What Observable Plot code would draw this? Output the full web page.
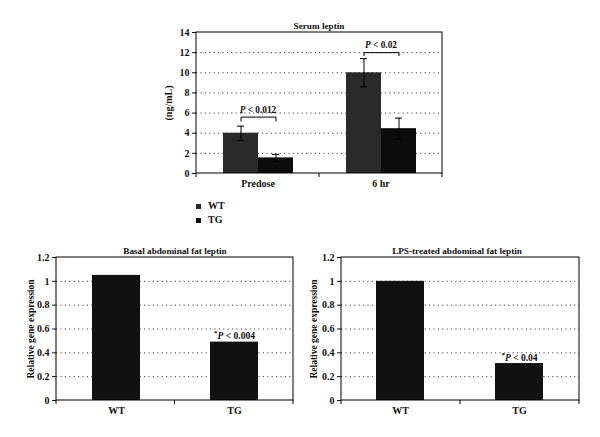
<!DOCTYPE html>
<html><head><meta charset="utf-8">
<script src="https://cdn.jsdelivr.net/npm/d3@7"></script>
<script src="https://cdn.jsdelivr.net/npm/@observablehq/plot@0.6"></script>
<style>
body{margin:0;background:#fff;width:600px;height:437px;position:relative;overflow:hidden;font-family:"Liberation Serif",serif;color:#111;}
.abs{position:absolute;}
.title{font-size:9.2px;font-weight:bold;text-align:center;white-space:nowrap;width:240px;line-height:14px;}
.leg{font-size:10px;font-weight:bold;line-height:12px;display:flex;align-items:center;}
.sw{width:5px;height:5px;display:inline-block;margin-right:7px;}
</style></head>
<body>
<div class="abs title" style="left:199px;top:19px;">Serum leptin</div>
<div class="abs title" style="left:55px;top:244px;">Basal abdominal fat leptin</div>
<div class="abs title" style="left:337px;top:244px;">LPS-treated abdominal fat leptin</div>
<div id="legend" class="abs" style="left:196px;top:200px;"></div>
<div id="top" class="abs" style="left:156px;top:22px;"></div>
<div id="bl" class="abs" style="left:16px;top:247px;"></div>
<div id="br" class="abs" style="left:301px;top:247px;"></div>
<script>
// ---- data ----
const timeCats = ["Predose", "6 hr"];
const groups = ["WT", "TG"];
const serumTime = ["Predose", "Predose", "6 hr", "6 hr"];
const serumGroup = ["WT", "TG", "WT", "TG"];
const serumMean = [4.0, 1.55, 10.0, 4.45];
const serumErr = [0.7, 0.35, 1.4, 1.05];
const pTime = ["Predose", "6 hr"];
const pBracketTop = [5.6, 12.0];
const pBracketLeg = [5.2, 11.7];
const pLabel = ["P < 0.012", "P < 0.02"];
const pLabelY = [6.3, 12.8];
const serumTicks = [0, 2, 4, 6, 8, 10, 12, 14];
const relTicks = [0, 0.2, 0.4, 0.6, 0.8, 1, 1.2];
const basalValues = [1.05, 0.49];
const basalNote = ["", "*P < 0.004"];
const lpsValues = [1.0, 0.31];
const lpsNote = ["", "*P < 0.04"];
const groupColors = ["#2a2a2a", "#0c0c0c"];

const font = {fontFamily: "'Liberation Serif', serif", fontSize: "10px", fontWeight: "bold", color: "#111", background: "transparent", overflow: "visible"};

// legend
const leg = document.getElementById("legend");
groups.forEach((g, i) => {
  const row = document.createElement("div");
  row.className = "leg";
  row.style.marginBottom = "2px";
  row.innerHTML = `<span class="sw" style="background:${groupColors[i]}"></span>${g}`;
  leg.appendChild(row);
});

function richP(svg) {
  d3.select(svg).selectAll("text").each(function () {
    const t = this.textContent;
    const m = t.match(/^(\*?)P(\s.*)$/);
    if (!m) return;
    const s = d3.select(this);
    s.text(null);
    if (m[1]) s.append("tspan").attr("font-size", "7px").attr("baseline-shift", "super").text("*");
    s.append("tspan").attr("font-style", "italic").text("P");
    s.append("tspan").text(m[2]);
  });
}

function addFrame(svg, xr, yr, ticksX) {
  const g = d3.select(svg).append("g");
  g.append("rect").attr("x", xr[0]).attr("y", Math.min(...yr)).attr("width", xr[1] - xr[0])
    .attr("height", Math.abs(yr[0] - yr[1])).attr("fill", "none").attr("stroke", "#000");
  const yb = Math.max(...yr);
  ticksX.forEach(x => g.append("line").attr("x1", x).attr("x2", x).attr("y1", yb).attr("y2", yb + 4).attr("stroke", "#000"));
}

// ---- top chart ----
const serum = serumTime.map((t, i) => ({time: t, group: serumGroup[i], mean: serumMean[i], err: serumErr[i]}));
const bracket = [];
pTime.forEach((t, i) => {
  bracket.push({time: t, group: "WT", y: pBracketLeg[i]});
  bracket.push({time: t, group: "WT", y: pBracketTop[i]});
  bracket.push({time: t, group: "TG", y: pBracketTop[i]});
  bracket.push({time: t, group: "TG", y: pBracketLeg[i]});
});
const pNotes = pTime.map((t, i) => ({time: t, y: pLabelY[i], label: pLabel[i]}));

const topPlot = Plot.plot({
  width: 296, height: 176, marginLeft: 40, marginRight: 10, marginTop: 10, marginBottom: 25,
  style: font,
  fx: {domain: timeCats, paddingInner: 0, paddingOuter: 0, label: null, tickSize: 0, tickPadding: 6, axis: "bottom"},
  x: {domain: groups, paddingInner: 0, paddingOuter: 0.73, axis: null},
  y: {domain: [0, 14], ticks: serumTicks, tickSize: 4, tickPadding: 3, label: "(ng/mL)", labelAnchor: "center", labelOffset: 32, labelArrow: "none"},
  color: {domain: groups, range: groupColors},
  marks: [
    Plot.ruleY(serumTicks.slice(1, -1), {stroke: "#444", strokeDasharray: "1.2,3.2", strokeWidth: 1}),
    Plot.barY(serum, {fx: "time", x: "group", y: "mean", fill: "group"}),
    Plot.ruleX(serum, {fx: "time", x: "group", y1: d => d.mean - d.err, y2: d => d.mean + d.err, stroke: "#000"}),
    Plot.tickY(serum, {fx: "time", x: "group", y: d => d.mean + d.err, stroke: "#000", insetLeft: 14, insetRight: 14}),
    Plot.tickY(serum, {fx: "time", x: "group", y: d => d.mean - d.err, stroke: "#000", insetLeft: 14, insetRight: 14}),
    Plot.line(bracket, {fx: "time", x: "group", y: "y", z: "time", stroke: "#000", strokeWidth: 1}),
    Plot.text(pNotes, {fx: "time", y: "y", text: "label", fontSize: 9.3})
  ]
});
document.getElementById("top").appendChild(topPlot);
{
  const fx = topPlot.scale("fx"), y = topPlot.scale("y");
  const r = fx.range;
  addFrame(topPlot, r, y.range, [r[0], (r[0] + r[1]) / 2, r[1]]);
  richP(topPlot);
}

// ---- bottom charts ----
function relChart(values, notes, width, labelOffset) {
  const data = groups.map((g, i) => ({group: g, value: values[i], note: notes[i]}));
  const p = Plot.plot({
    width, height: 178, marginLeft: 40, marginRight: 8, marginTop: 10, marginBottom: 25,
    style: font,
    x: {domain: groups, paddingInner: 0.595, paddingOuter: 0.2975, label: null, tickSize: 0, tickPadding: 6},
    y: {domain: [0, 1.2], ticks: relTicks, tickFormat: d => String(+d.toFixed(1)), tickSize: 4, tickPadding: 3,
        label: "Relative gene expression", labelAnchor: "center", labelOffset, labelArrow: "none"},
    marks: [
      Plot.ruleY(relTicks.slice(1, -1), {stroke: "#444", strokeDasharray: "1.2,3.2", strokeWidth: 1}),
      Plot.barY(data, {x: "group", y: "value", fill: "#111"}),
      Plot.text(data, {x: "group", y: "value", text: "note", lineAnchor: "bottom", dy: -3, fontSize: 9.5})
    ]
  });
  const x = p.scale("x"), y = p.scale("y");
  const r = x.range;
  addFrame(p, r, y.range, [r[0], (r[0] + r[1]) / 2, r[1]]);
  d3.select(p).selectAll("g[aria-label='y-axis label'] text, g[aria-label='y-axis label']").style("font-size", "9.5px");
  richP(p);
  return p;
}
document.getElementById("bl").appendChild(relChart(basalValues, basalNote, 285, 29));
document.getElementById("br").appendChild(relChart(lpsValues, lpsNote, 286, 31));
</script>
</body></html>
